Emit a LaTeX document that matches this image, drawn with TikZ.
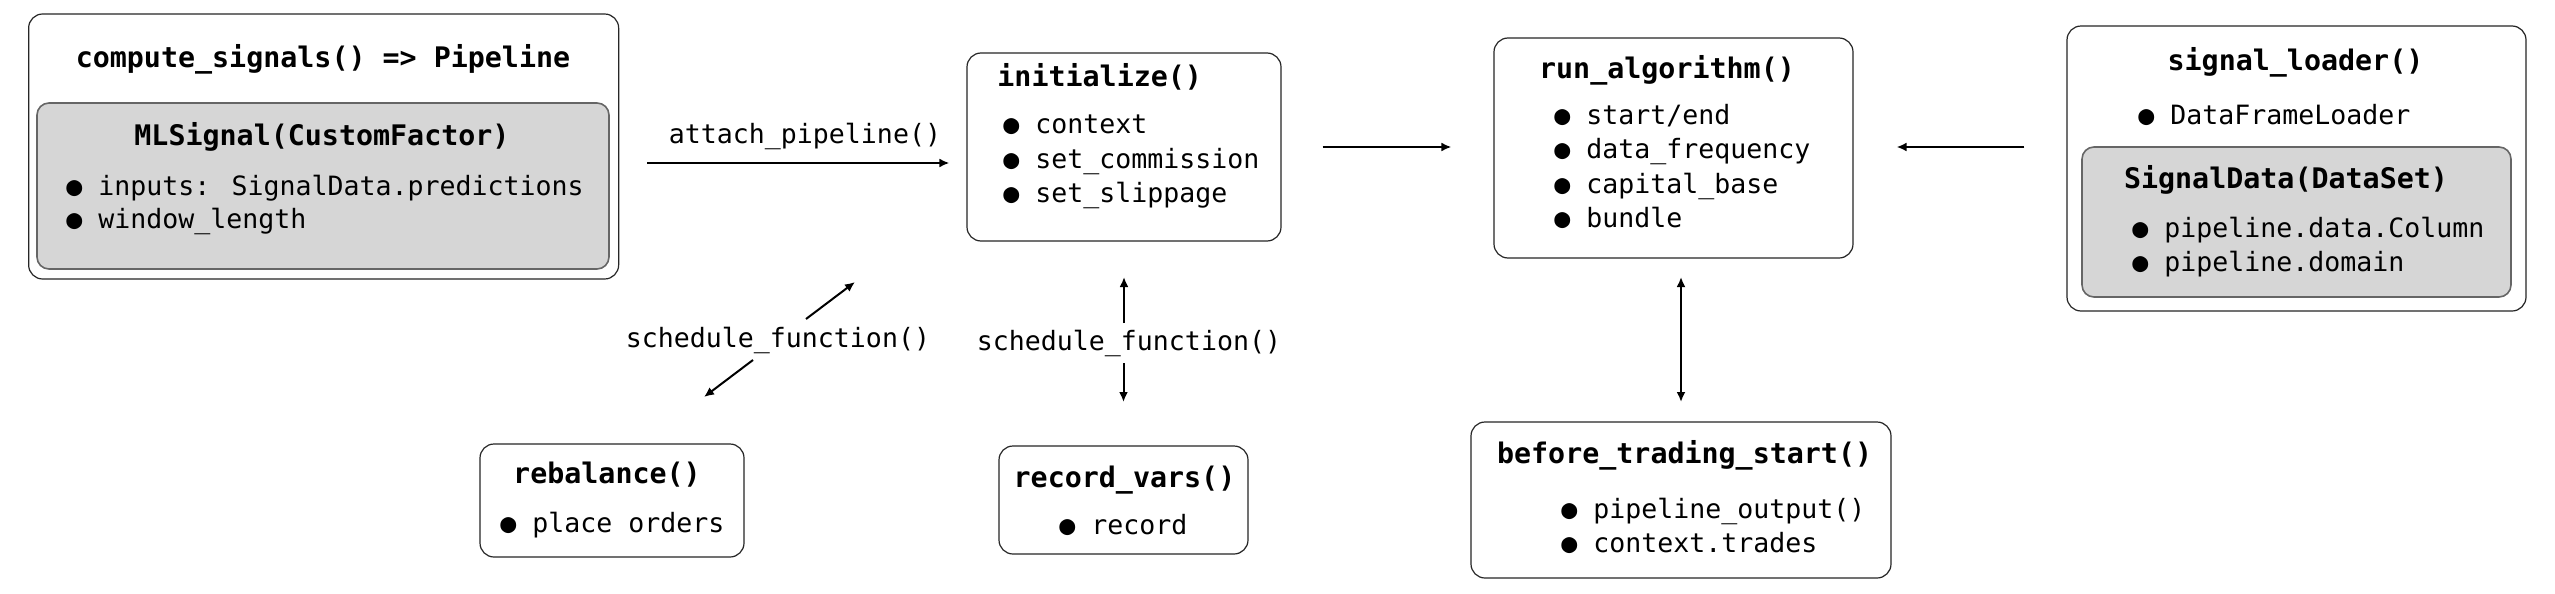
\documentclass[tikz,border=0pt]{standalone}
\usepackage{fontspec}
\setmainfont{DejaVu Sans Mono}
\usetikzlibrary{arrows.meta}
\definecolor{boxgray}{RGB}{214,214,214}
\newcommand{\bodyfnt}{\fontsize{13.29pt}{17pt}\selectfont}
\newcommand{\ttlfnt}{\fontsize{14.16pt}{18pt}\selectfont\bfseries}
\tikzset{
  box/.style={draw=black!85, line width=0.6pt, rounded corners=7pt, inner sep=0pt, fill=white},
  inbox/.style={draw=black!60, line width=0.8pt, rounded corners=6pt, inner sep=0pt, fill=boxgray},
  ttl/.style={font=\ttlfnt, inner sep=0pt, anchor=base},
  ttlw/.style={font=\ttlfnt, inner sep=0pt, anchor=base west},
  itm/.style={font=\bodyfnt, inner sep=0pt, anchor=base west},
  lbl/.style={font=\bodyfnt, inner sep=0pt, anchor=base},
  arr/.style={-{Latex[length=5pt,width=4.5pt]}, line width=1pt},
  darr/.style={{Latex[length=5pt,width=4.5pt]}-{Latex[length=5pt,width=4.5pt]}, line width=1pt}
}
\begin{document}
\begin{tikzpicture}[x=0.5pt,y=-0.5pt]
\useasboundingbox[fill=white] (0,0) rectangle (2555,594);

% compute_signals
\node[box, minimum width=295pt, minimum height=132.5pt] (cs) at (323.65,146.5) {};
\node[inbox, minimum width=286pt, minimum height=83pt] (csin) at (323,186) {};
\node[ttl] (cst) at (323,68) {compute\_signals() => Pipeline};
\node[ttl] (mlt) at (322,145) {MLSignal(CustomFactor)};
\node[itm] (ml1) at (66,195) {● inputs: SignalData.predictions};
\node[itm] (ml2) at (66,228) {● window\_length};

% initialize
\node[box, minimum width=157pt, minimum height=94pt] (init) at (1124,147) {};
\node[ttlw] (initt) at (997,86) {initialize()};
\node[itm] (in1) at (1003,133) {● context};
\node[itm] (in2) at (1003,168) {● set\_commission};
\node[itm] (in3) at (1003,202) {● set\_slippage};

% run_algorithm
\node[box, minimum width=179.5pt, minimum height=110pt] (run) at (1673.5,148) {};
\node[ttl] (runt) at (1667,78) {run\_algorithm()};
\node[itm] (ru1) at (1554,124) {● start/end};
\node[itm] (ru2) at (1554,158) {● data\_frequency};
\node[itm] (ru3) at (1554,193) {● capital\_base};
\node[itm] (ru4) at (1554,227) {● bundle};

% signal_loader
\node[box, minimum width=229.5pt, minimum height=142.5pt] (sl) at (2296.5,168.5) {};
\node[ttl] (slt) at (2295.5,70) {signal\_loader()};
\node[itm] (sl1) at (2138,124) {● DataFrameLoader};
\node[inbox, minimum width=214.5pt, minimum height=75pt] (slin) at (2296.5,222) {};
\node[ttl] (sdt) at (2286,188) {SignalData(DataSet)};
\node[itm] (sd1) at (2132,237) {● pipeline.data.Column};
\node[itm] (sd2) at (2132,271) {● pipeline.domain};

% rebalance
\node[box, minimum width=132pt, minimum height=56.5pt] (rebal) at (612,500.5) {};
\node[ttl] (rebt) at (607,483) {rebalance()};
\node[itm] (reb1) at (500,532) {● place orders};

% record_vars
\node[box, minimum width=124.5pt, minimum height=54pt] (rec) at (1123.5,500) {};
\node[ttl] (rect) at (1124.5,487) {record\_vars()};
\node[itm] (rec1) at (1059,534) {● record};

% before_trading_start
\node[box, minimum width=210pt, minimum height=78pt] (bts) at (1681,500) {};
\node[ttl] (btst) at (1684.6,463) {before\_trading\_start()};
\node[itm] (bt1) at (1561,518) {● pipeline\_output()};
\node[itm] (bt2) at (1561,552) {● context.trades};

% labels
\node[lbl] (la) at (805,143) {attach\_pipeline()};
\node[lbl] (ls1) at (778,347) {schedule\_function()};
\node[lbl] (ls2) at (1129,350) {schedule\_function()};

% connectors
\draw[arr, shorten <=14pt, shorten >=8.5pt] (cs.east |- 0,163) -- (init.west |- 0,163);
\draw[arr, shorten <=20.5pt, shorten >=21pt] (init.east) -- (run.west |- init.east);
\draw[arr, shorten <=21pt, shorten >=21.5pt] (sl.west |- 0,147) -- (run.east |- 0,147);
\draw[darr] (bts.north |- 0,277) -- (bts.north |- 0,402);
\draw[arr] (init.south |- 0,323) -- (init.south |- 0,277);
\draw[arr] (rec.north |- 0,363) -- (rec.north |- 0,402);
\coordinate (s1a) at (806,319);
\coordinate (s1b) at (855,282);
\coordinate (s1c) at (753,360);
\coordinate (s1d) at (704,397);
\draw[arr] (s1a) -- (s1b);
\draw[arr] (s1c) -- (s1d);
\end{tikzpicture}
\end{document}
